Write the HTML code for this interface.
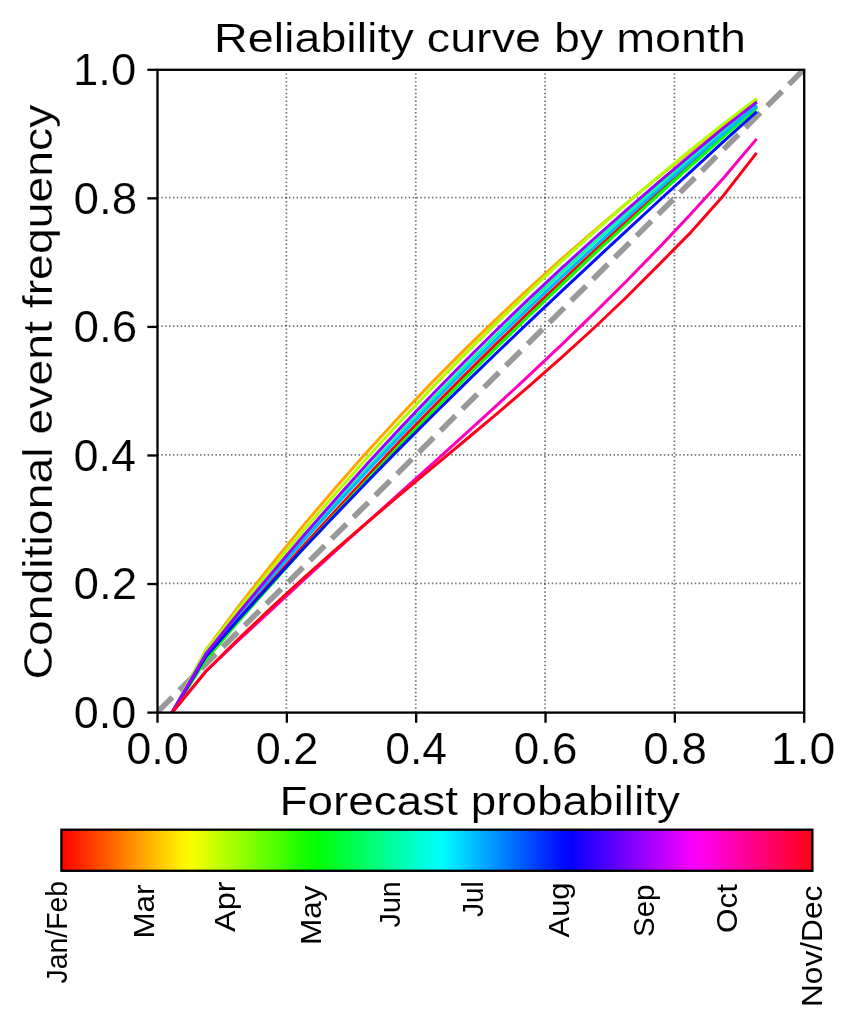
<!DOCTYPE html>
<html><head><meta charset="utf-8"><style>
html,body{margin:0;padding:0;background:#fff;width:856px;height:1024px;overflow:hidden}
svg{display:block;will-change:transform}
text{font-family:"Liberation Sans",sans-serif;fill:#000;stroke:#fff;stroke-width:0.2px}
text.s{stroke:none}
</style></head><body>
<svg width="856" height="1024" viewBox="0 0 856 1024">
<defs>
<clipPath id="ax"><rect x="157.5" y="69.8" width="646.70" height="642.80"/></clipPath>
<linearGradient id="cb" x1="0" y1="0" x2="1" y2="0"><stop offset="0.0000" stop-color="#ff0000"/><stop offset="0.0078" stop-color="#ff0c00"/><stop offset="0.0156" stop-color="#ff1800"/><stop offset="0.0234" stop-color="#ff2300"/><stop offset="0.0312" stop-color="#ff2f00"/><stop offset="0.0391" stop-color="#ff3b00"/><stop offset="0.0469" stop-color="#ff4700"/><stop offset="0.0547" stop-color="#ff5300"/><stop offset="0.0625" stop-color="#ff5f00"/><stop offset="0.0703" stop-color="#ff6a00"/><stop offset="0.0781" stop-color="#ff7600"/><stop offset="0.0859" stop-color="#ff8200"/><stop offset="0.0938" stop-color="#ff8e00"/><stop offset="0.1016" stop-color="#ff9a00"/><stop offset="0.1094" stop-color="#ffa500"/><stop offset="0.1172" stop-color="#ffb100"/><stop offset="0.1250" stop-color="#ffbd00"/><stop offset="0.1328" stop-color="#ffc900"/><stop offset="0.1406" stop-color="#ffd500"/><stop offset="0.1484" stop-color="#ffe000"/><stop offset="0.1562" stop-color="#ffec00"/><stop offset="0.1641" stop-color="#fcf500"/><stop offset="0.1719" stop-color="#f8fd00"/><stop offset="0.1797" stop-color="#eeff00"/><stop offset="0.1875" stop-color="#e2ff00"/><stop offset="0.1953" stop-color="#d7ff00"/><stop offset="0.2031" stop-color="#cbff00"/><stop offset="0.2109" stop-color="#bfff00"/><stop offset="0.2188" stop-color="#b3ff00"/><stop offset="0.2266" stop-color="#a7ff00"/><stop offset="0.2344" stop-color="#9cff00"/><stop offset="0.2422" stop-color="#90ff00"/><stop offset="0.2500" stop-color="#84ff00"/><stop offset="0.2578" stop-color="#78ff00"/><stop offset="0.2656" stop-color="#6cff00"/><stop offset="0.2734" stop-color="#61ff00"/><stop offset="0.2812" stop-color="#55ff00"/><stop offset="0.2891" stop-color="#49ff00"/><stop offset="0.2969" stop-color="#3dff00"/><stop offset="0.3047" stop-color="#31ff00"/><stop offset="0.3125" stop-color="#25ff00"/><stop offset="0.3203" stop-color="#1aff00"/><stop offset="0.3281" stop-color="#0eff00"/><stop offset="0.3359" stop-color="#06ff04"/><stop offset="0.3438" stop-color="#02ff0c"/><stop offset="0.3516" stop-color="#00ff16"/><stop offset="0.3594" stop-color="#00ff21"/><stop offset="0.3672" stop-color="#00ff2d"/><stop offset="0.3750" stop-color="#00ff39"/><stop offset="0.3828" stop-color="#00ff45"/><stop offset="0.3906" stop-color="#00ff51"/><stop offset="0.3984" stop-color="#00ff5c"/><stop offset="0.4062" stop-color="#00ff68"/><stop offset="0.4141" stop-color="#00ff74"/><stop offset="0.4219" stop-color="#00ff80"/><stop offset="0.4297" stop-color="#00ff8c"/><stop offset="0.4375" stop-color="#00ff97"/><stop offset="0.4453" stop-color="#00ffa3"/><stop offset="0.4531" stop-color="#00ffaf"/><stop offset="0.4609" stop-color="#00ffbb"/><stop offset="0.4688" stop-color="#00ffc7"/><stop offset="0.4766" stop-color="#00ffd3"/><stop offset="0.4844" stop-color="#00ffde"/><stop offset="0.4922" stop-color="#00ffea"/><stop offset="0.5000" stop-color="#00fff6"/><stop offset="0.5078" stop-color="#00fcff"/><stop offset="0.5156" stop-color="#00f0ff"/><stop offset="0.5234" stop-color="#00e5ff"/><stop offset="0.5312" stop-color="#00d9ff"/><stop offset="0.5391" stop-color="#00cdff"/><stop offset="0.5469" stop-color="#00c1ff"/><stop offset="0.5547" stop-color="#00b5ff"/><stop offset="0.5625" stop-color="#00aaff"/><stop offset="0.5703" stop-color="#009eff"/><stop offset="0.5781" stop-color="#0092ff"/><stop offset="0.5859" stop-color="#0086ff"/><stop offset="0.5938" stop-color="#007aff"/><stop offset="0.6016" stop-color="#006eff"/><stop offset="0.6094" stop-color="#0063ff"/><stop offset="0.6172" stop-color="#0057ff"/><stop offset="0.6250" stop-color="#004bff"/><stop offset="0.6328" stop-color="#003fff"/><stop offset="0.6406" stop-color="#0033ff"/><stop offset="0.6484" stop-color="#0028ff"/><stop offset="0.6562" stop-color="#001cff"/><stop offset="0.6641" stop-color="#0010ff"/><stop offset="0.6719" stop-color="#0408ff"/><stop offset="0.6797" stop-color="#0800ff"/><stop offset="0.6875" stop-color="#1300ff"/><stop offset="0.6953" stop-color="#1f00ff"/><stop offset="0.7031" stop-color="#2b00ff"/><stop offset="0.7109" stop-color="#3700ff"/><stop offset="0.7188" stop-color="#4300ff"/><stop offset="0.7266" stop-color="#4f00ff"/><stop offset="0.7344" stop-color="#5a00ff"/><stop offset="0.7422" stop-color="#6600ff"/><stop offset="0.7500" stop-color="#7200ff"/><stop offset="0.7578" stop-color="#7e00ff"/><stop offset="0.7656" stop-color="#8a00ff"/><stop offset="0.7734" stop-color="#9500ff"/><stop offset="0.7812" stop-color="#a100ff"/><stop offset="0.7891" stop-color="#ad00ff"/><stop offset="0.7969" stop-color="#b900ff"/><stop offset="0.8047" stop-color="#c500ff"/><stop offset="0.8125" stop-color="#d000ff"/><stop offset="0.8203" stop-color="#dc00ff"/><stop offset="0.8281" stop-color="#e800ff"/><stop offset="0.8359" stop-color="#f400ff"/><stop offset="0.8438" stop-color="#fa00f9"/><stop offset="0.8516" stop-color="#fe00f1"/><stop offset="0.8594" stop-color="#ff00e7"/><stop offset="0.8672" stop-color="#ff00db"/><stop offset="0.8750" stop-color="#ff00cf"/><stop offset="0.8828" stop-color="#ff00c3"/><stop offset="0.8906" stop-color="#ff00b7"/><stop offset="0.8984" stop-color="#ff00ac"/><stop offset="0.9062" stop-color="#ff00a0"/><stop offset="0.9141" stop-color="#ff0094"/><stop offset="0.9219" stop-color="#ff0088"/><stop offset="0.9297" stop-color="#ff007c"/><stop offset="0.9375" stop-color="#ff0071"/><stop offset="0.9453" stop-color="#ff0065"/><stop offset="0.9531" stop-color="#ff0059"/><stop offset="0.9609" stop-color="#ff004d"/><stop offset="0.9688" stop-color="#ff0041"/><stop offset="0.9766" stop-color="#ff0035"/><stop offset="0.9844" stop-color="#ff002a"/><stop offset="0.9922" stop-color="#ff001e"/><stop offset="1.0000" stop-color="#ff0018"/></linearGradient>
</defs>
<rect width="856" height="1024" fill="#fff"/>
<g clip-path="url(#ax)">
<g stroke="#000" stroke-opacity="0.55" stroke-width="1.8" stroke-dasharray="1.46 2.405">
<line x1="286.39" y1="712.6" x2="286.39" y2="69.8"/>
<line x1="157.5" y1="583.34" x2="804.2" y2="583.34"/>
<line x1="415.73" y1="712.6" x2="415.73" y2="69.8"/>
<line x1="157.5" y1="454.78" x2="804.2" y2="454.78"/>
<line x1="545.07" y1="712.6" x2="545.07" y2="69.8"/>
<line x1="157.5" y1="326.22" x2="804.2" y2="326.22"/>
<line x1="674.41" y1="712.6" x2="674.41" y2="69.8"/>
<line x1="157.5" y1="197.66" x2="804.2" y2="197.66"/>
</g>
<line x1="157.5" y1="712.0" x2="804.2" y2="69.2" stroke="#999999" stroke-width="5.6" stroke-dasharray="21 9.7"/>
<g fill="none" stroke-width="3" stroke-linejoin="round" stroke-linecap="square">
<path d="M172.05,712.60 L206.00,657.20 L238.34,618.80 L270.67,582.31 L303.01,546.21 L335.34,510.90 L367.68,475.69 L400.01,441.05 L432.35,407.70 L464.68,375.09 L497.02,343.18 L529.35,311.91 L561.69,281.24 L594.02,251.12 L626.36,221.52 L658.69,192.38 L691.03,163.66 L723.36,135.31 L755.70,107.60" stroke="#ff0000"/>
<path d="M172.05,712.60 L206.00,650.01 L238.34,606.63 L270.67,565.64 L303.01,525.86 L335.34,488.02 L367.68,451.26 L400.01,416.00 L432.35,382.15 L464.68,349.62 L497.02,318.31 L529.35,288.12 L561.69,258.97 L594.02,230.76 L626.36,203.40 L658.69,176.80 L691.03,150.85 L723.36,125.47 L755.70,100.65" stroke="#ffa500"/>
<path d="M172.05,712.60 L206.00,650.76 L238.34,609.35 L270.67,569.81 L303.01,531.01 L335.34,493.73 L367.68,457.17 L400.01,421.79 L432.35,387.56 L464.68,354.42 L497.02,322.35 L529.35,291.28 L561.69,261.20 L594.02,232.04 L626.36,203.76 L658.69,176.33 L691.03,149.71 L723.36,123.84 L755.70,99.37" stroke="#b3ff00"/>
<path d="M172.05,712.60 L206.00,659.67 L238.34,621.77 L270.67,585.30 L303.01,549.11 L335.34,514.02 L367.68,479.20 L400.01,445.13 L432.35,411.76 L464.68,379.07 L497.02,347.01 L529.35,315.53 L561.69,284.60 L594.02,254.18 L626.36,224.23 L658.69,194.70 L691.03,165.56 L723.36,136.77 L755.70,108.88" stroke="#08ff00"/>
<path d="M172.05,712.60 L206.00,653.40 L238.34,614.38 L270.67,576.82 L303.01,539.62 L335.34,503.60 L367.68,467.98 L400.01,433.25 L432.35,399.40 L464.68,366.41 L497.02,334.26 L529.35,302.95 L561.69,272.45 L594.02,242.74 L626.36,213.82 L658.69,185.67 L691.03,158.27 L723.36,131.61 L755.70,105.80" stroke="#00ff9d"/>
<path d="M172.05,712.60 L206.00,653.64 L238.34,615.00 L270.67,577.89 L303.01,541.18 L335.34,505.68 L367.68,470.57 L400.01,436.33 L432.35,402.92 L464.68,370.31 L497.02,338.46 L529.35,307.34 L561.69,276.89 L594.02,247.09 L626.36,217.90 L658.69,189.28 L691.03,161.20 L723.36,133.61 L755.70,106.70" stroke="#00b5ff"/>
<path d="M172.05,712.60 L206.00,656.42 L238.34,619.52 L270.67,584.09 L303.01,548.98 L335.34,514.96 L367.68,481.20 L400.01,448.13 L432.35,415.70 L464.68,383.84 L497.02,352.49 L529.35,321.58 L561.69,291.04 L594.02,260.81 L626.36,230.82 L658.69,201.01 L691.03,171.32 L723.36,141.67 L755.70,112.61" stroke="#0010ff"/>
<path d="M172.05,712.60 L206.00,653.90 L238.34,613.23 L270.67,574.38 L303.01,536.19 L335.34,499.46 L367.68,463.36 L400.01,428.36 L432.35,394.42 L464.68,361.47 L497.02,329.48 L529.35,298.40 L561.69,268.17 L594.02,238.75 L626.36,210.09 L658.69,182.15 L691.03,154.86 L723.36,128.19 L755.70,102.97" stroke="#9b00ff"/>
<path d="M172.05,712.60 L206.00,671.12 L238.34,640.53 L270.67,610.66 L303.01,580.72 L335.34,551.21 L367.68,522.00 L400.01,492.92 L432.35,463.84 L464.68,434.62 L497.02,405.10 L529.35,375.15 L561.69,344.62 L594.02,313.36 L626.36,281.23 L658.69,248.08 L691.03,213.78 L723.36,178.17 L755.70,139.99" stroke="#ff00bd"/>
<path d="M172.05,712.60 L206.00,671.30 L238.34,639.06 L270.67,608.46 L303.01,578.61 L335.34,549.88 L367.68,521.99 L400.01,494.69 L432.35,467.69 L464.68,440.74 L497.02,413.56 L529.35,385.89 L561.69,357.45 L594.02,327.99 L626.36,297.23 L658.69,264.90 L691.03,232.11 L723.36,195.66 L755.70,154.01" stroke="#ff0018"/>
</g>
</g>
<g stroke="#000" stroke-width="2.32" fill="none">
<rect x="157.5" y="69.8" width="646.70" height="642.80" stroke-linejoin="miter"/>
<line x1="157.50" y1="712.6" x2="157.50" y2="722.75"/>
<line x1="157.5" y1="712.60" x2="147.35" y2="712.60"/>
<line x1="286.84" y1="712.6" x2="286.84" y2="722.75"/>
<line x1="157.5" y1="584.04" x2="147.35" y2="584.04"/>
<line x1="416.18" y1="712.6" x2="416.18" y2="722.75"/>
<line x1="157.5" y1="455.48" x2="147.35" y2="455.48"/>
<line x1="545.52" y1="712.6" x2="545.52" y2="722.75"/>
<line x1="157.5" y1="326.92" x2="147.35" y2="326.92"/>
<line x1="674.86" y1="712.6" x2="674.86" y2="722.75"/>
<line x1="157.5" y1="198.36" x2="147.35" y2="198.36"/>
<line x1="804.20" y1="712.6" x2="804.20" y2="722.75"/>
<line x1="157.5" y1="69.80" x2="147.35" y2="69.80"/>
</g>
<rect x="61.4" y="829.7" width="751.0" height="41.1" fill="url(#cb)" stroke="#000" stroke-width="2.32"/>
<text x="214.00" y="51.85" font-size="41" textLength="532.00" lengthAdjust="spacingAndGlyphs">Reliability curve by month</text>
<text x="279.50" y="814.70" font-size="41" textLength="400.42" lengthAdjust="spacingAndGlyphs">Forecast probability</text>
<text transform="translate(51.70,679.50) rotate(-90)" font-size="41" textLength="574.93" lengthAdjust="spacingAndGlyphs">Conditional event frequency</text>
<text x="126.25" y="764.40" font-size="45" textLength="62.68" lengthAdjust="spacingAndGlyphs">0.0</text>
<text x="73.80" y="728.00" font-size="45" textLength="62.60" lengthAdjust="spacingAndGlyphs">0.0</text>
<text x="255.75" y="764.40" font-size="45" textLength="62.68" lengthAdjust="spacingAndGlyphs">0.2</text>
<text x="73.50" y="599.44" font-size="45" textLength="63.68" lengthAdjust="spacingAndGlyphs">0.2</text>
<text x="385.25" y="764.40" font-size="45" textLength="61.68" lengthAdjust="spacingAndGlyphs">0.4</text>
<text x="73.50" y="470.88" font-size="45" textLength="62.68" lengthAdjust="spacingAndGlyphs">0.4</text>
<text x="513.75" y="764.40" font-size="45" textLength="63.68" lengthAdjust="spacingAndGlyphs">0.6</text>
<text x="73.50" y="342.32" font-size="45" textLength="63.68" lengthAdjust="spacingAndGlyphs">0.6</text>
<text x="643.25" y="764.40" font-size="45" textLength="63.68" lengthAdjust="spacingAndGlyphs">0.8</text>
<text x="73.50" y="213.76" font-size="45" textLength="63.68" lengthAdjust="spacingAndGlyphs">0.8</text>
<text x="770.75" y="764.40" font-size="45" textLength="64.68" lengthAdjust="spacingAndGlyphs">1.0</text>
<text x="73.00" y="85.20" font-size="45" textLength="63.16" lengthAdjust="spacingAndGlyphs">1.0</text>
<text class="s" transform="translate(66.60,983.50) rotate(-90)" font-size="29.5" textLength="102.52" lengthAdjust="spacingAndGlyphs">Jan/Feb</text>
<text class="s" transform="translate(154.10,938.50) rotate(-90)" font-size="29.5" textLength="54.02" lengthAdjust="spacingAndGlyphs">Mar</text>
<text class="s" transform="translate(234.60,932.00) rotate(-90)" font-size="29.5" textLength="50.49" lengthAdjust="spacingAndGlyphs">Apr</text>
<text class="s" transform="translate(321.20,945.00) rotate(-90)" font-size="29.5" textLength="59.62" lengthAdjust="spacingAndGlyphs">May</text>
<text class="s" transform="translate(399.60,927.50) rotate(-90)" font-size="29.5" textLength="46.38" lengthAdjust="spacingAndGlyphs">Jun</text>
<text class="s" transform="translate(483.10,917.00) rotate(-90)" font-size="29.5" textLength="35.67" lengthAdjust="spacingAndGlyphs">Jul</text>
<text class="s" transform="translate(568.90,937.50) rotate(-90)" font-size="29.5" textLength="55.05" lengthAdjust="spacingAndGlyphs">Aug</text>
<text class="s" transform="translate(653.90,937.00) rotate(-90)" font-size="29.5" textLength="52.50" lengthAdjust="spacingAndGlyphs">Sep</text>
<text class="s" transform="translate(736.80,933.00) rotate(-90)" font-size="29.5" textLength="48.95" lengthAdjust="spacingAndGlyphs">Oct</text>
<text class="s" transform="translate(821.80,1007.00) rotate(-90)" font-size="29.5" textLength="121.36" lengthAdjust="spacingAndGlyphs">Nov/Dec</text>
</svg>
</body></html>
